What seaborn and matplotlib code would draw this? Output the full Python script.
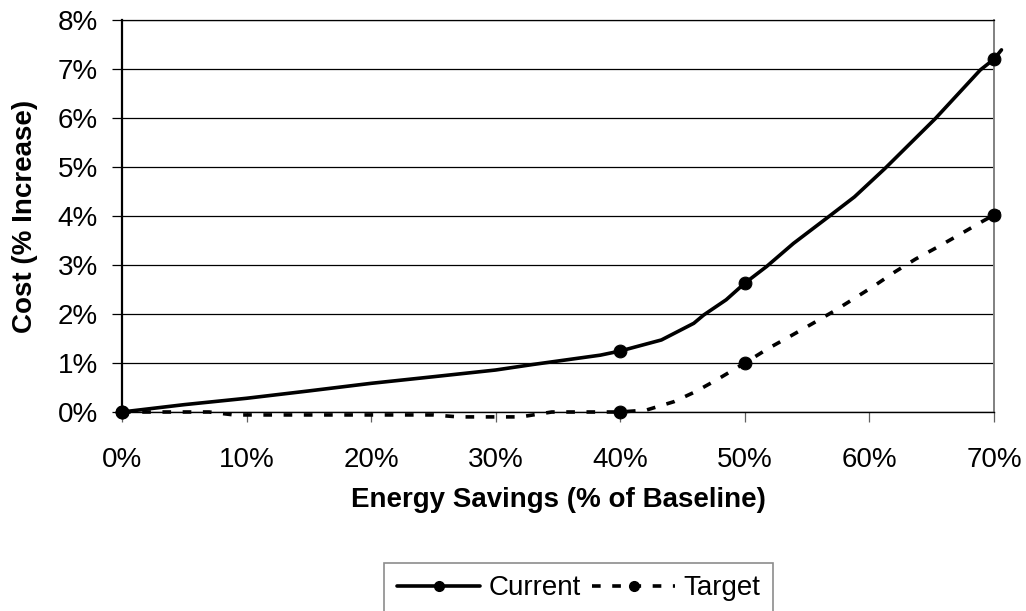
import numpy as np
import pandas as pd
import matplotlib
matplotlib.use("Agg")
import matplotlib.pyplot as plt
from matplotlib.lines import Line2D
from matplotlib.ticker import PercentFormatter, MultipleLocator
import seaborn as sns

# Cost curves: energy savings (% of baseline) vs. cost increase (%)
current_savings = [0, 5, 10, 15, 20, 25, 30, 33, 38.4, 40, 43.3, 45.9, 46.7,
                   48.5, 50, 51.75, 53.9, 56.8, 58.8, 61.25, 65.3, 68.9, 70, 70.6]
current_cost = [0.0, 0.15, 0.28, 0.43, 0.585, 0.72, 0.857, 0.97, 1.16, 1.245,
                1.47, 1.81, 1.98, 2.29, 2.63, 2.97, 3.44, 4.0, 4.39, 4.97,
                5.99, 6.98, 7.2, 7.39]

target_savings = [0, 7, 9, 25, 27, 32, 34.5, 40, 42.1, 44.3, 46, 47.7, 50,
                  51.9, 53.6, 55.4, 57.1, 58.8, 60.3, 62.05, 63.7, 65.5, 67.3,
                  69, 70, 70.5]
target_cost = [0.0, 0.0, -0.06, -0.06, -0.1, -0.1, 0.0, 0.0, 0.04, 0.21, 0.41,
               0.65, 1.0, 1.3, 1.54, 1.8, 2.05, 2.32, 2.56, 2.86, 3.12, 3.37,
               3.63, 3.88, 4.02, 4.09]

# Highlighted scenarios shown with markers
marked_savings = [0, 40, 50, 70]
current_marked = [0.0, 1.245, 2.63, 7.2]
target_marked = [0.0, 0.0, 1.0, 4.02]

series_names = ["Current", "Target"]

sns.set_theme(style="white")
plt.rcParams["font.family"] = ["Liberation Sans", "DejaVu Sans"]
plt.rcParams["text.color"] = "black"
plt.rcParams["axes.labelcolor"] = "black"

fig = plt.figure(figsize=(10.26, 6.11), dpi=100)
ax = fig.add_axes([0.1189, 0.3257, 0.8499, 0.6416])

line_w = 2.6
dash = (0, (2.4, 3.2))

curves = {
    "Current": (current_savings, current_cost, current_marked, "-"),
    "Target": (target_savings, target_cost, target_marked, dash),
}
for name in series_names:
    xs, ys, marked, ls = curves[name]
    line_df = pd.DataFrame({"x": xs, "y": ys})
    sns.lineplot(data=line_df, x="x", y="y", sort=False, estimator=None,
                 color="black", linewidth=line_w, ax=ax, legend=False,
                 zorder=3)
    ln = ax.lines[-1]
    ln.set_linestyle(ls)
    ln.set_dash_capstyle("butt")
    ln.set_clip_on(False)
    pts = pd.DataFrame({"x": marked_savings, "y": marked})
    sns.scatterplot(data=pts, x="x", y="y", color="black", edgecolor="black",
                    s=85, ax=ax, legend=False, zorder=4, clip_on=False)

ax.set_xlim(0, 70)
ax.set_ylim(0, 8)
ax.xaxis.set_major_locator(MultipleLocator(10))
ax.yaxis.set_major_locator(MultipleLocator(1))
ax.xaxis.set_major_formatter(PercentFormatter(decimals=0))
ax.yaxis.set_major_formatter(PercentFormatter(decimals=0))

ax.grid(axis="y", color="black", linewidth=0.9)
ax.grid(axis="x", visible=False)
ax.set_axisbelow(True)

ax.spines["left"].set_color("black")
ax.spines["left"].set_linewidth(1.6)
ax.spines["bottom"].set_color("black")
ax.spines["bottom"].set_linewidth(1.0)
ax.spines["top"].set_color("black")
ax.spines["top"].set_linewidth(0.9)
ax.spines["right"].set_color("#808080")
ax.spines["right"].set_linewidth(1.4)

ax.tick_params(axis="x", direction="out", length=7.5, width=0.9, color="#606060",
               labelcolor="black", labelsize=20, pad=18, bottom=True)
ax.tick_params(axis="y", direction="out", length=7.5, width=0.9, color="black",
               labelcolor="black", labelsize=20, pad=10, left=True)

ax.set_xlabel("Energy Savings (% of Baseline)", fontsize=20, fontweight="bold",
              labelpad=10, color="black")
ax.set_ylabel("Cost (% Increase)", fontsize=20, fontweight="bold", labelpad=14,
              color="black")

handles = [
    Line2D([], [], color="black", linewidth=line_w, marker="o", markersize=7,
           linestyle="-"),
    Line2D([], [], color="black", linewidth=line_w, marker="o", markersize=7,
           linestyle=dash, dash_capstyle="butt"),
]
leg = fig.legend(handles, series_names, loc="upper center",
                 bbox_to_anchor=(0.564, 0.0786), ncol=2, fontsize=20,
                 frameon=True, fancybox=False, edgecolor="#707070",
                 handlelength=3.0, handletextpad=0.3, columnspacing=0.4,
                 borderpad=0.45, borderaxespad=0)
leg.get_frame().set_linewidth(1.2)
for txt in leg.get_texts():
    txt.set_color("black")

fig.savefig("out.png", dpi=100)
